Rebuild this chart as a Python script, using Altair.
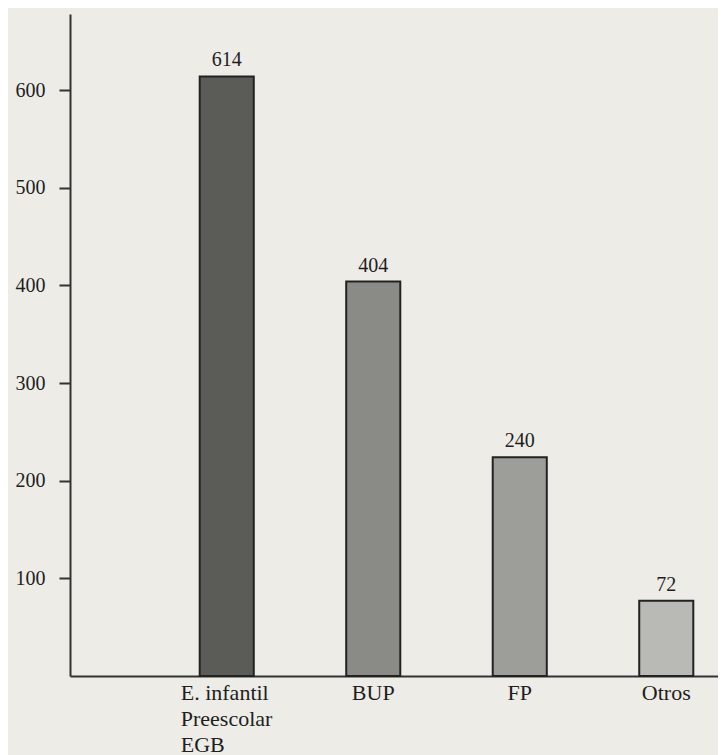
import altair as alt
import pandas as pd

categories = ["E. infantil|Preescolar|EGB", "BUP", "FP", "Otros"]
bar_heights = [614, 404, 224, 77]          # heights as drawn in the picture
value_labels = ["614", "404", "240", "72"]  # printed labels
shades = ["#5b5b57", "#8a8a86", "#9d9d99", "#b9b9b5"]
y_ticks = [100, 200, 300, 400, 500, 600]

df = pd.DataFrame({"cat": categories, "h": bar_heights, "lab": value_labels, "shade": shades})

FONT = "Liberation Serif"
INK = "#1e1e1e"
first_test = "indexof(datum.value, '|') >= 0"

x_enc = alt.X(
    "cat:N", sort=None,
    scale=alt.Scale(paddingInner=0.631, paddingOuter=0.527, align=0.84),
    axis=alt.Axis(title=None, labelAngle=0, ticks=False,
                  labelExpr="split(datum.label, '|')",
                  labelAlign={"condition": {"test": first_test, "value": "left"}, "value": "center"},
                  labelOffset={"condition": {"test": first_test, "value": -46}, "value": 0},
                  labelFont=FONT, labelFontSize=22, labelLineHeight=26,
                  labelPadding=6, labelColor=INK,
                  domainColor="#333333", domainWidth=2, grid=False),
)

y_scale = alt.Scale(domain=[0, 678], nice=False, zero=True)

bars = alt.Chart(df).mark_bar(stroke="#222222", strokeWidth=2).encode(
    x=x_enc,
    y=alt.Y("h:Q", scale=y_scale,
            axis=alt.Axis(title=None, values=y_ticks, grid=False,
                          tickSize=11, tickWidth=2, tickColor="#333333",
                          domainColor="#333333", domainWidth=2,
                          labelFont=FONT, labelFontSize=20, labelColor=INK,
                          labelPadding=14)),
    color=alt.Color("shade:N", scale=None),
)

text = alt.Chart(df).mark_text(
    dy=-6, baseline="bottom", font=FONT, fontSize=20, color=INK
).encode(
    x=alt.X("cat:N", sort=None),
    y=alt.Y("h:Q", scale=y_scale),
    text="lab:N",
)

chart = alt.layer(bars, text).properties(
    width=648, height=662,
    background="#edece7",
    padding={"left": 62, "top": 6, "right": 0, "bottom": 79},
    autosize=alt.AutoSizeParams(type="none"),
).configure_view(stroke=None)

chart.save("out.html", embed_options={"renderer": "svg", "actions": False})
